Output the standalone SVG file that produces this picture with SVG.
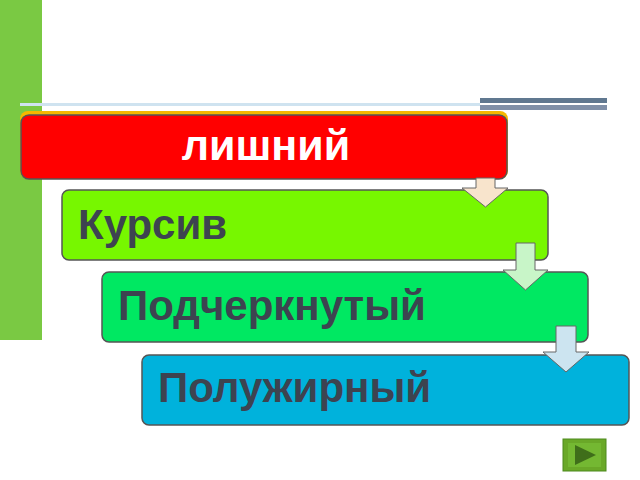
<svg xmlns="http://www.w3.org/2000/svg" width="640" height="480" viewBox="0 0 640 480">
<style>
.box{stroke:#555;stroke-width:1.5}
.t{font-family:"Liberation Sans",Arial,sans-serif;font-weight:bold;fill:#3d4350;font-size:42px}
.arr{stroke:#666;stroke-width:1}
</style>
<rect width="640" height="480" fill="#fff"/>
<rect x="0" y="0" width="42" height="340" fill="#7ac943"/>
<rect x="20" y="103" width="460" height="3" fill="#cfe3f0"/>
<rect x="480" y="98" width="127" height="5" fill="#607890"/>
<rect x="480" y="105" width="127" height="5" fill="#8090a8"/>
<g id="n1"><rect x="20" y="111" width="488" height="68" rx="8" fill="#f5b800"/><rect class="box" x="21" y="115" width="486" height="64" rx="8" fill="#ff0000"/>
<text x="266" y="160" text-anchor="middle" font-family="'Liberation Sans',Arial,sans-serif" font-weight="bold" font-size="43" fill="#fff">лишний</text></g>
<g id="n2"><rect class="box" x="62" y="190" width="486" height="70" rx="7" fill="#77f700"/><text class="t" x="78" y="239">Курсив</text></g>
<g id="n3"><rect class="box" x="102" y="272" width="486" height="70" rx="7" fill="#00e862"/><text class="t" x="118" y="320">Подчеркнутый</text></g>
<g id="n4"><rect class="box" x="142" y="355" width="487" height="70" rx="7" fill="#00b2dc"/><text class="t" x="158" y="402">Полужирный</text></g>
<g id="connectors">
<path class="arr" fill="#f8e4cc" d="M476,178H495V188H508L485.5,207L462,188H476Z"/>
<path class="arr" fill="#c8f5c8" d="M516,243H535V270H548L525.5,290L503,270H516Z"/>
<path class="arr" fill="#cce4f0" d="M556,326H576V352H589L566,372L543,352H556Z"/>
</g>
<g id="play"><rect x="563" y="439" width="43" height="32" fill="#6aa828" stroke="#4d8a1c"/><rect x="568" y="443" width="33" height="24" fill="#74b832"/><path d="M575,445L596,455L575,465Z" fill="#3f6e1a"/></g>
</svg>
